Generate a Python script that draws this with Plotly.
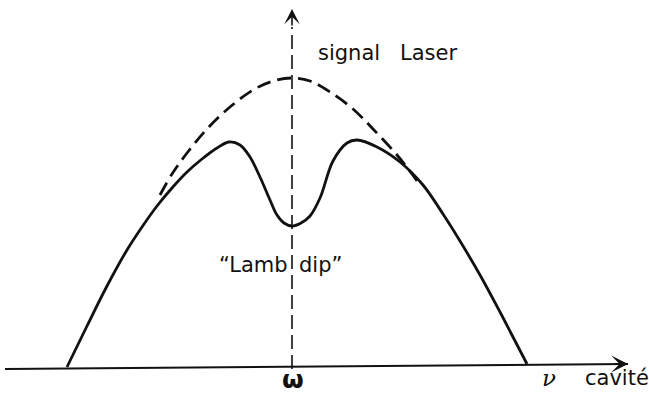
import plotly.graph_objects as go

# Laser output versus cavity frequency (arbitrary units; line centre omega at 0)
# Solid curve: output power with the Lamb dip at line centre
solid_nu = [-22.5, -20.5, -18.5, -16.5, -15.0, -13.5, -12.0, -10.5, -9.0, -7.5, -6.3, -5.2, -4.2,
            -3.2, -2.2, -1.5, -0.8, 0.0, 0.9, 1.8, 2.8, 4.1, 5.5, 6.5, 8.5, 10.8, 13.1, 15.1, 16.8,
            18.8, 20.8, 22.1, 23.5]
solid_signal = [0.0, 4.1, 8.1, 11.7, 14.0, 16.1, 17.9, 19.5, 20.8, 21.9, 22.5, 22.2, 21.0,
                19.0, 16.7, 15.2, 14.4, 14.1, 14.4, 15.1, 16.9, 20.6, 22.4, 22.7, 22.0, 20.5, 18.2, 15.3, 12.6,
                9.2, 5.5, 3.0, 0.3]

# Dashed curve: output without the dip (gain envelope)
envelope_nu = [-13.2, -12.0, -10.5, -8.5, -6.2, -3.9, -1.9, 0.0, 1.8, 3.8, 6.1, 8.1, 10.5, 12.0, 12.5]
envelope_signal = [17.2, 19.3, 21.4, 23.8, 26.0, 27.7, 28.6, 28.9, 28.6, 27.5, 25.8, 23.8, 21.2, 19.3, 18.6]

# Axes of the sketch
freq_axis_nu = [-28.7, 33.6]
freq_axis_signal = [-0.2, 0.3]
signal_axis_top = 35.8
signal_axis_dash_end = 34.0

ink = "#111111"
font = "DejaVu Sans"

fig = go.Figure()

# horizontal frequency axis (shaft)
fig.add_trace(go.Scatter(x=freq_axis_nu, y=freq_axis_signal, mode="lines",
                         line=dict(color=ink, width=2), hoverinfo="skip"))
# vertical dashed axis through omega
fig.add_trace(go.Scatter(x=[0, 0], y=[-0.2, signal_axis_dash_end], mode="lines",
                         line=dict(color=ink, width=1.6, dash="14px,6px"), hoverinfo="skip"))
# envelope (dashed)
fig.add_trace(go.Scatter(x=envelope_nu, y=envelope_signal, mode="lines",
                         line=dict(color=ink, width=2.8, dash="14px,7px", shape="spline", smoothing=1.0),
                         hoverinfo="skip"))
# laser output with Lamb dip
fig.add_trace(go.Scatter(x=solid_nu, y=solid_signal, mode="lines",
                         line=dict(color=ink, width=2.8, shape="spline", smoothing=1.0),
                         hoverinfo="skip"))

annotations = [
    # arrowheads
    dict(x=freq_axis_nu[1], y=freq_axis_signal[1], ax=freq_axis_nu[1] - 1.5, ay=freq_axis_signal[1],
         axref="x", ayref="y", text="", showarrow=True,
         arrowhead=3, arrowsize=1.4, arrowwidth=2, arrowcolor=ink),
    dict(x=0, y=signal_axis_top, ax=0, ay=signal_axis_dash_end,
         axref="x", ayref="y", text="", showarrow=True,
         arrowhead=3, arrowsize=1.6, arrowwidth=1.6, arrowcolor=ink),
    # labels
    dict(x=5.7, y=31.4, text="signal", showarrow=False, xanchor="center", yanchor="middle",
         font=dict(family=font, size=21, color=ink)),
    dict(x=13.6, y=31.4, text="Laser", showarrow=False, xanchor="center", yanchor="middle",
         font=dict(family=font, size=21, color=ink)),
    dict(x=-0.2, y=10.2, text="\u201cLamb", showarrow=False, xanchor="right", yanchor="middle",
         font=dict(family=font, size=21, color=ink)),
    dict(x=0.5, y=10.2, text="dip\u201d", showarrow=False, xanchor="left", yanchor="middle",
         font=dict(family=font, size=21, color=ink)),
    dict(x=0.1, y=-1.2, text="<b>\u03c9</b>", showarrow=False, xanchor="center", yanchor="middle",
         font=dict(family=font, size=25, color=ink)),
    dict(x=25.7, y=-1.1, text="<i>\u03bd</i>", showarrow=False, xanchor="center", yanchor="middle",
         font=dict(family="DejaVu Serif", size=23, color=ink)),
    dict(x=29.1, y=-1.1, text="cavit\u00e9", showarrow=False, xanchor="left", yanchor="middle",
         font=dict(family=font, size=21, color=ink)),
]
for a in annotations:
    a["xref"] = "x"
    a["yref"] = "y"

fig.update_layout(
    width=649, height=396, autosize=False,
    margin=dict(l=0, r=0, t=0, b=0, pad=0),
    paper_bgcolor="white", plot_bgcolor="white",
    showlegend=False,
    xaxis=dict(range=[-29.2, 35.7], visible=False, fixedrange=True),
    yaxis=dict(range=[-2.9, 36.7], visible=False, fixedrange=True),
    annotations=annotations,
)

fig.write_html("out.html", config={"displayModeBar": False})
